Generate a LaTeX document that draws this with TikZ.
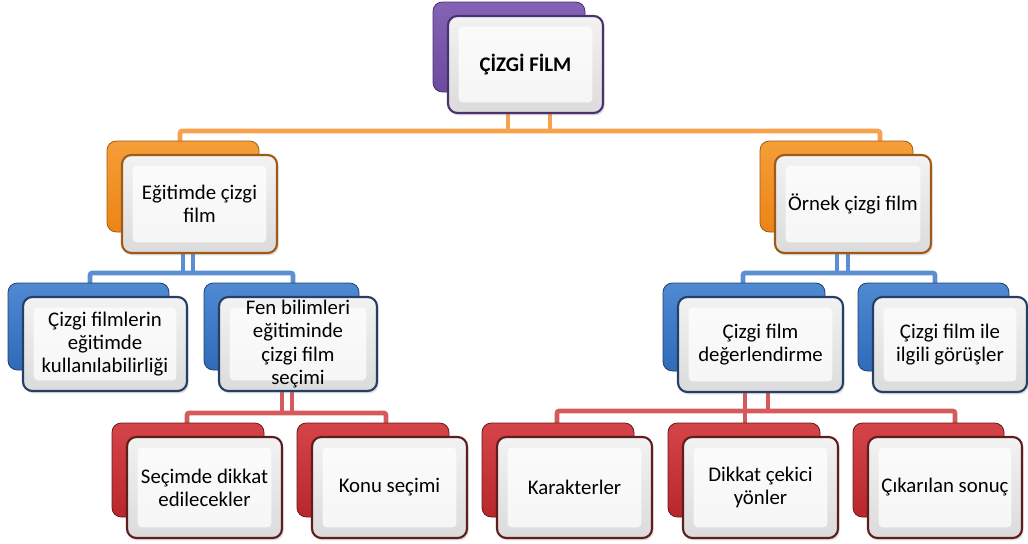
\documentclass[tikz,border=0pt]{standalone}
\usepackage{fontspec}
\setmainfont{Carlito}
\usetikzlibrary{shadows}
\definecolor{tpur}{HTML}{6C4B9E}\definecolor{tpurL}{HTML}{8463B6}\definecolor{tpurD}{HTML}{4A3270}
\definecolor{tora}{HTML}{EC8414}\definecolor{toraL}{HTML}{F59E38}\definecolor{toraD}{HTML}{9E5A18}
\definecolor{tblu}{HTML}{2F6BBA}\definecolor{tbluL}{HTML}{4F89D2}\definecolor{tbluD}{HTML}{263F66}
\definecolor{tred}{HTML}{B8272C}\definecolor{tredL}{HTML}{D44448}\definecolor{tredD}{HTML}{611C1C}
\definecolor{toraC}{HTML}{F9A24E}\definecolor{tbluC}{HTML}{5B8ED2}\definecolor{tredC}{HTML}{D55A5E}
\tikzset{
  backbox/.style={rounded corners=7pt, draw=#1D, line width=0.6pt, top color=#1L, bottom color=#1, inner sep=0pt},
  frontbox/.style={rounded corners=7pt, draw=#1D, line width=1.6pt,
     top color=white!95!black, bottom color=white!86!black,
     drop shadow={opacity=0.25, shadow xshift=1.2pt, shadow yshift=-1.8pt},
     path picture={\fill[white, opacity=0.75, rounded corners=3pt]
       ([shift={(8pt,-8pt)}]path picture bounding box.north west) rectangle
       ([shift={(-8pt,8pt)}]path picture bounding box.south east);},
     align=center, inner sep=2pt, text=black,
     font=\fontsize{15.6}{17.4}\selectfont},
  conn/.style={draw=#1C, line width=3.4pt, rounded corners=1.5pt},
}
\newcommand\mkbox[7]{%
  \pgfmathsetmacro\fw{(#4-#2)*0.75}%
  \pgfmathsetmacro\fh{(#5-#3)*0.75}%
  \pgfmathsetmacro\cx{(#2+#4)/2}%
  \pgfmathsetmacro\cy{(#3+#5)/2}%
  \node[backbox=#6, minimum width=\fw pt-2.25pt, minimum height=\fh pt-5.25pt] (#1b) at (\cx-16.5,\cy-17.5) {};
  \node[frontbox=#6, minimum width=\fw pt, minimum height=\fh pt] (#1) at (\cx,\cy) {#7};
}
\begin{document}
\begin{tikzpicture}[x=0.75pt,y=-0.75pt]
\useasboundingbox (0,0) rectangle (1028,543);
% connectors
\coordinate (o1) at (180,131);
\coordinate (o2) at (880,131);
\draw[conn=tora] (508,113) -- (508,131);
\draw[conn=tora] (550,113) -- (550,131);
\draw[conn=tora] (180,143) -- (o1) -- (o2) -- (880,143);
\draw[conn=tblu] (183,253) -- (183,273);
\draw[conn=tblu] (193,253) -- (193,273);
\draw[conn=tblu] (90,283) -- (90,273) -- (293,273) -- (293,283);
\draw[conn=tblu] (837,253) -- (837,273);
\draw[conn=tblu] (848,253) -- (848,273);
\draw[conn=tblu] (743,283) -- (743,273) -- (935,273) -- (935,283);
\draw[conn=tred] (282,390) -- (282,413);
\draw[conn=tred] (292,390) -- (292,413);
\draw[conn=tred] (187,424) -- (187,413) -- (386,413) -- (386,424);
\draw[conn=tred] (745,392) -- (745,424);
\draw[conn=tred] (768,392) -- (768,411);
\draw[conn=tred] (557,424) -- (557,411) -- (955,411) -- (955,424);
% boxes
\mkbox{n1}{448}{16}{603}{113}{tpur}{\bfseries ÇİZGİ FİLM}
\mkbox{n2}{122}{155}{277}{253}{tora}{Eğitimde çizgi\\film}
\mkbox{n3}{775}{155}{931}{253}{tora}{Örnek çizgi film}
\mkbox{n4}{23}{297}{187}{391}{tblu}{Çizgi filmlerin\\eğitimde\\kullanılabilirliği}
\mkbox{n5}{219}{297}{377}{391}{tblu}{Fen bilimleri\\eğitiminde\\çizgi film\\seçimi}
\mkbox{n6}{678}{297}{843}{392}{tblu}{Çizgi film\\değerlendirme}
\mkbox{n7}{873}{297}{1027}{392}{tblu}{Çizgi film ile\\ilgili görüşler}
\mkbox{n8}{127}{437}{282}{538}{tred}{Seçimde dikkat\\edilecekler}
\mkbox{n9}{312}{437}{467}{538}{tred}{Konu seçimi}
\mkbox{n10}{497}{437}{652}{538}{tred}{Karakterler}
\mkbox{n11}{683}{437}{838}{538}{tred}{Dikkat çekici\\yönler}
\mkbox{n12}{868}{437}{1022}{538}{tred}{Çıkarılan sonuç}
\end{tikzpicture}
\end{document}
